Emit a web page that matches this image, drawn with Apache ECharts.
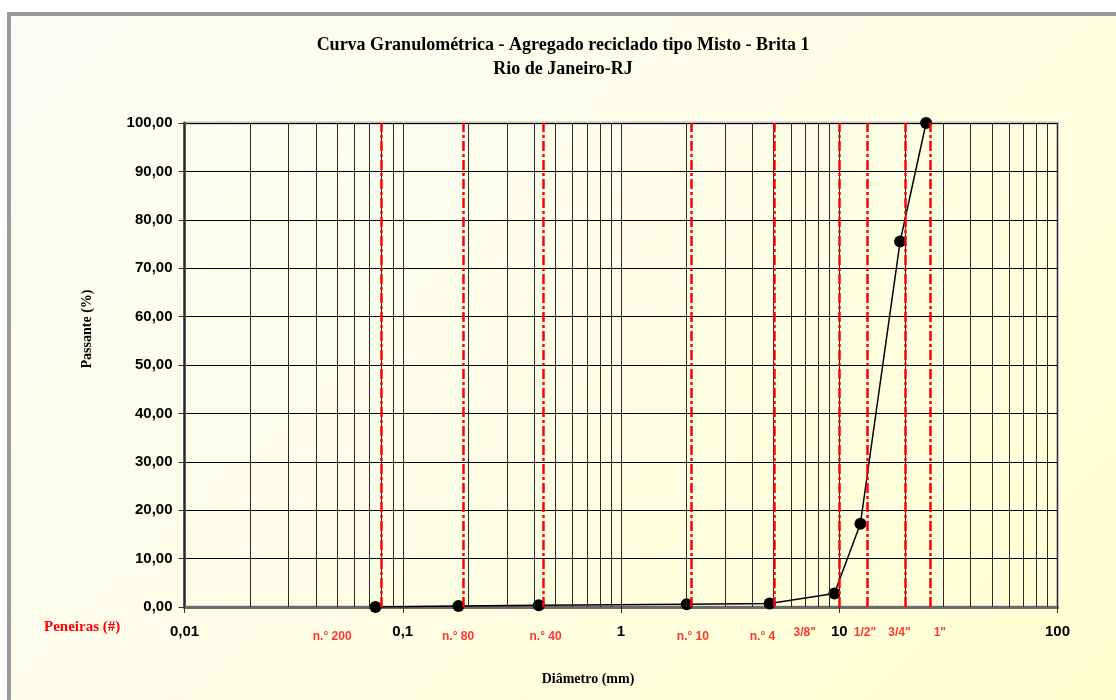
<!DOCTYPE html>
<html>
<head>
<meta charset="utf-8">
<script src="https://cdn.jsdelivr.net/npm/echarts@6/dist/echarts.min.js"></script>
<style>
  html, body { margin: 0; padding: 0; background: #ffffff; }
  #frame {
    position: absolute; left: 7px; top: 12px; width: 1200px; height: 800px;
    border-left: 4px solid #9a9a9a; border-top: 4px solid #9a9a9a;
    background: linear-gradient(135deg, #fbfbf7 0%, #fdfde8 40%, #ffffd8 75%, #ffffcc 100%);
  }
  #chart { position: absolute; left: 0; top: 0; width: 1116px; height: 700px; }
</style>
</head>
<body>
<div id="frame"></div>
<div id="chart"></div>
<script>
// Ensaio de granulometria: diâmetro das peneiras (mm) e porcentagem passante
const diametro = [0.075, 0.18, 0.42, 2.0, 4.8, 9.5, 12.5, 19, 25];
const passante = [0.0, 0.2, 0.35, 0.55, 0.7, 2.8, 17.2, 75.5, 100];

// Peneiras de referência (linhas vermelhas) e seus rótulos
const peneiraNomes = ['n.° 200', 'n.° 80', 'n.° 40', 'n.° 10', 'n.° 4', '3/8"', '1/2"', '3/4"', '1"'];
const peneiraLinhas = [0.078, 0.191, 0.442, 2.09, 5.05, 9.95, 13.4, 20.1, 26.0];

// Rótulos dos eixos
const xTickLabels = ['0,01', '0,1', '1', '10', '100'];
const yTickValues = [0, 10, 20, 30, 40, 50, 60, 70, 80, 90, 100];

// Deslocamento (px) de cada rótulo de peneira em relação à sua linha
const rotuloDesloc = [[-47, 30], [-6, 30], [2, 30], [2, 30], [-12, 30], [-34, 26], [-2, 26], [-6, 26], [10, 26]];

// Linhas de grade logarítmicas (1..9 em cada década, mais 100)
const gradeX = [];
for (let e = -2; e <= 1; e++) {
  for (let k = 1; k <= 9; k++) gradeX.push(+(k * Math.pow(10, e)).toPrecision(3));
}
gradeX.push(100);

const sans = '"Liberation Sans", Arial, sans-serif';
const serif = '"Liberation Serif", "Times New Roman", serif';

const chart = echarts.init(document.getElementById('chart'), null, { renderer: 'canvas' });

chart.setOption({
  backgroundColor: 'transparent',
  animation: false,
  title: {
    text: 'Curva Granulométrica - Agregado reciclado tipo Misto - Brita 1\nRio de Janeiro-RJ',
    left: 558, top: 28, textAlign: 'center',
    textStyle: { fontFamily: serif, fontWeight: 'bold', fontSize: 18, lineHeight: 24, color: '#000' }
  },
  graphic: [
    {
      type: 'text', left: 44, top: 620,
      style: { text: 'Peneiras (#)', fill: '#ff0000', font: 'bold 15px ' + serif }
    },
    {
      type: 'text', x: 87, y: 329, rotation: Math.PI / 2,
      style: { text: 'Passante (%)', fill: '#000', font: 'bold 14px ' + serif, align: 'center', verticalAlign: 'middle' }
    }
  ],
  grid: {
    left: 184.5, right: 58.5, top: 123, bottom: 93,
    show: true, borderColor: '#c0c0c0', borderWidth: 3, backgroundColor: 'transparent'
  },
  xAxis: {
    type: 'log', logBase: 10, min: 0.01, max: 100,
    name: 'Diâmetro (mm)', nameLocation: 'middle', nameGap: 65,
    nameTextStyle: { fontFamily: serif, fontWeight: 'bold', fontSize: 14, color: '#000', padding: [0, 66, 0, 0] },
    axisLine: { show: true, lineStyle: { color: '#6a6a6a', width: 3 } },
    axisTick: { show: true, length: 6, lineStyle: { color: '#333', width: 1 } },
    axisLabel: {
      margin: 17, fontFamily: sans, fontWeight: 'bold', fontSize: 15, color: '#000',
      formatter: v => xTickLabels[Math.round(Math.log10(v)) + 2]
    },
    splitLine: { show: false }
  },
  yAxis: {
    type: 'value', min: 0, max: 100, interval: 10,
    axisLine: { show: true, lineStyle: { color: '#5a5a5a', width: 3 } },
    axisTick: { show: true, length: 6, lineStyle: { color: '#333', width: 1 } },
    axisLabel: {
      margin: 12, fontFamily: sans, fontWeight: 'bold', fontSize: 15, color: '#000',
      formatter: v => yTickValues.includes(v) ? v.toFixed(2).replace('.', ',') : ''
    },
    splitLine: { show: true, lineStyle: { color: '#000', width: 1 } }
  },
  series: [
    {
      // grade vertical logarítmica
      type: 'line', data: [], silent: true, z: 1,
      markLine: {
        silent: true, symbol: ['none', 'none'], label: { show: false },
        lineStyle: { color: '#2a2a2a', width: 1, type: 'solid' },
        data: gradeX.map(v => ({ xAxis: v }))
      }
    },
    {
      // curva granulométrica
      type: 'line', z: 3,
      data: diametro.map((d, i) => [d, passante[i]]),
      symbol: 'circle', symbolSize: 12,
      itemStyle: { color: '#000' },
      lineStyle: { color: '#000', width: 1.5 }
    },
    {
      // peneiras de referência
      type: 'line', data: [], silent: true, z: 4,
      markLine: {
        silent: true, symbol: ['none', 'none'], label: { show: false },
        lineStyle: { color: '#ff0000', width: 2.5, type: [10, 3, 3, 3] },
        data: peneiraLinhas.map(v => ({ xAxis: v }))
      }
    },
    {
      // rótulos das peneiras
      type: 'scatter', z: 5, silent: true,
      symbolSize: 1, itemStyle: { color: 'transparent' },
      data: peneiraLinhas.map((v, i) => ({
        value: [v, 0],
        label: {
          show: true, position: 'inside', offset: rotuloDesloc[i],
          formatter: peneiraNomes[i],
          fontFamily: sans, fontWeight: 'bold', fontSize: 12, color: '#ff0000'
        }
      }))
    }
  ]
});
</script>
</body>
</html>
